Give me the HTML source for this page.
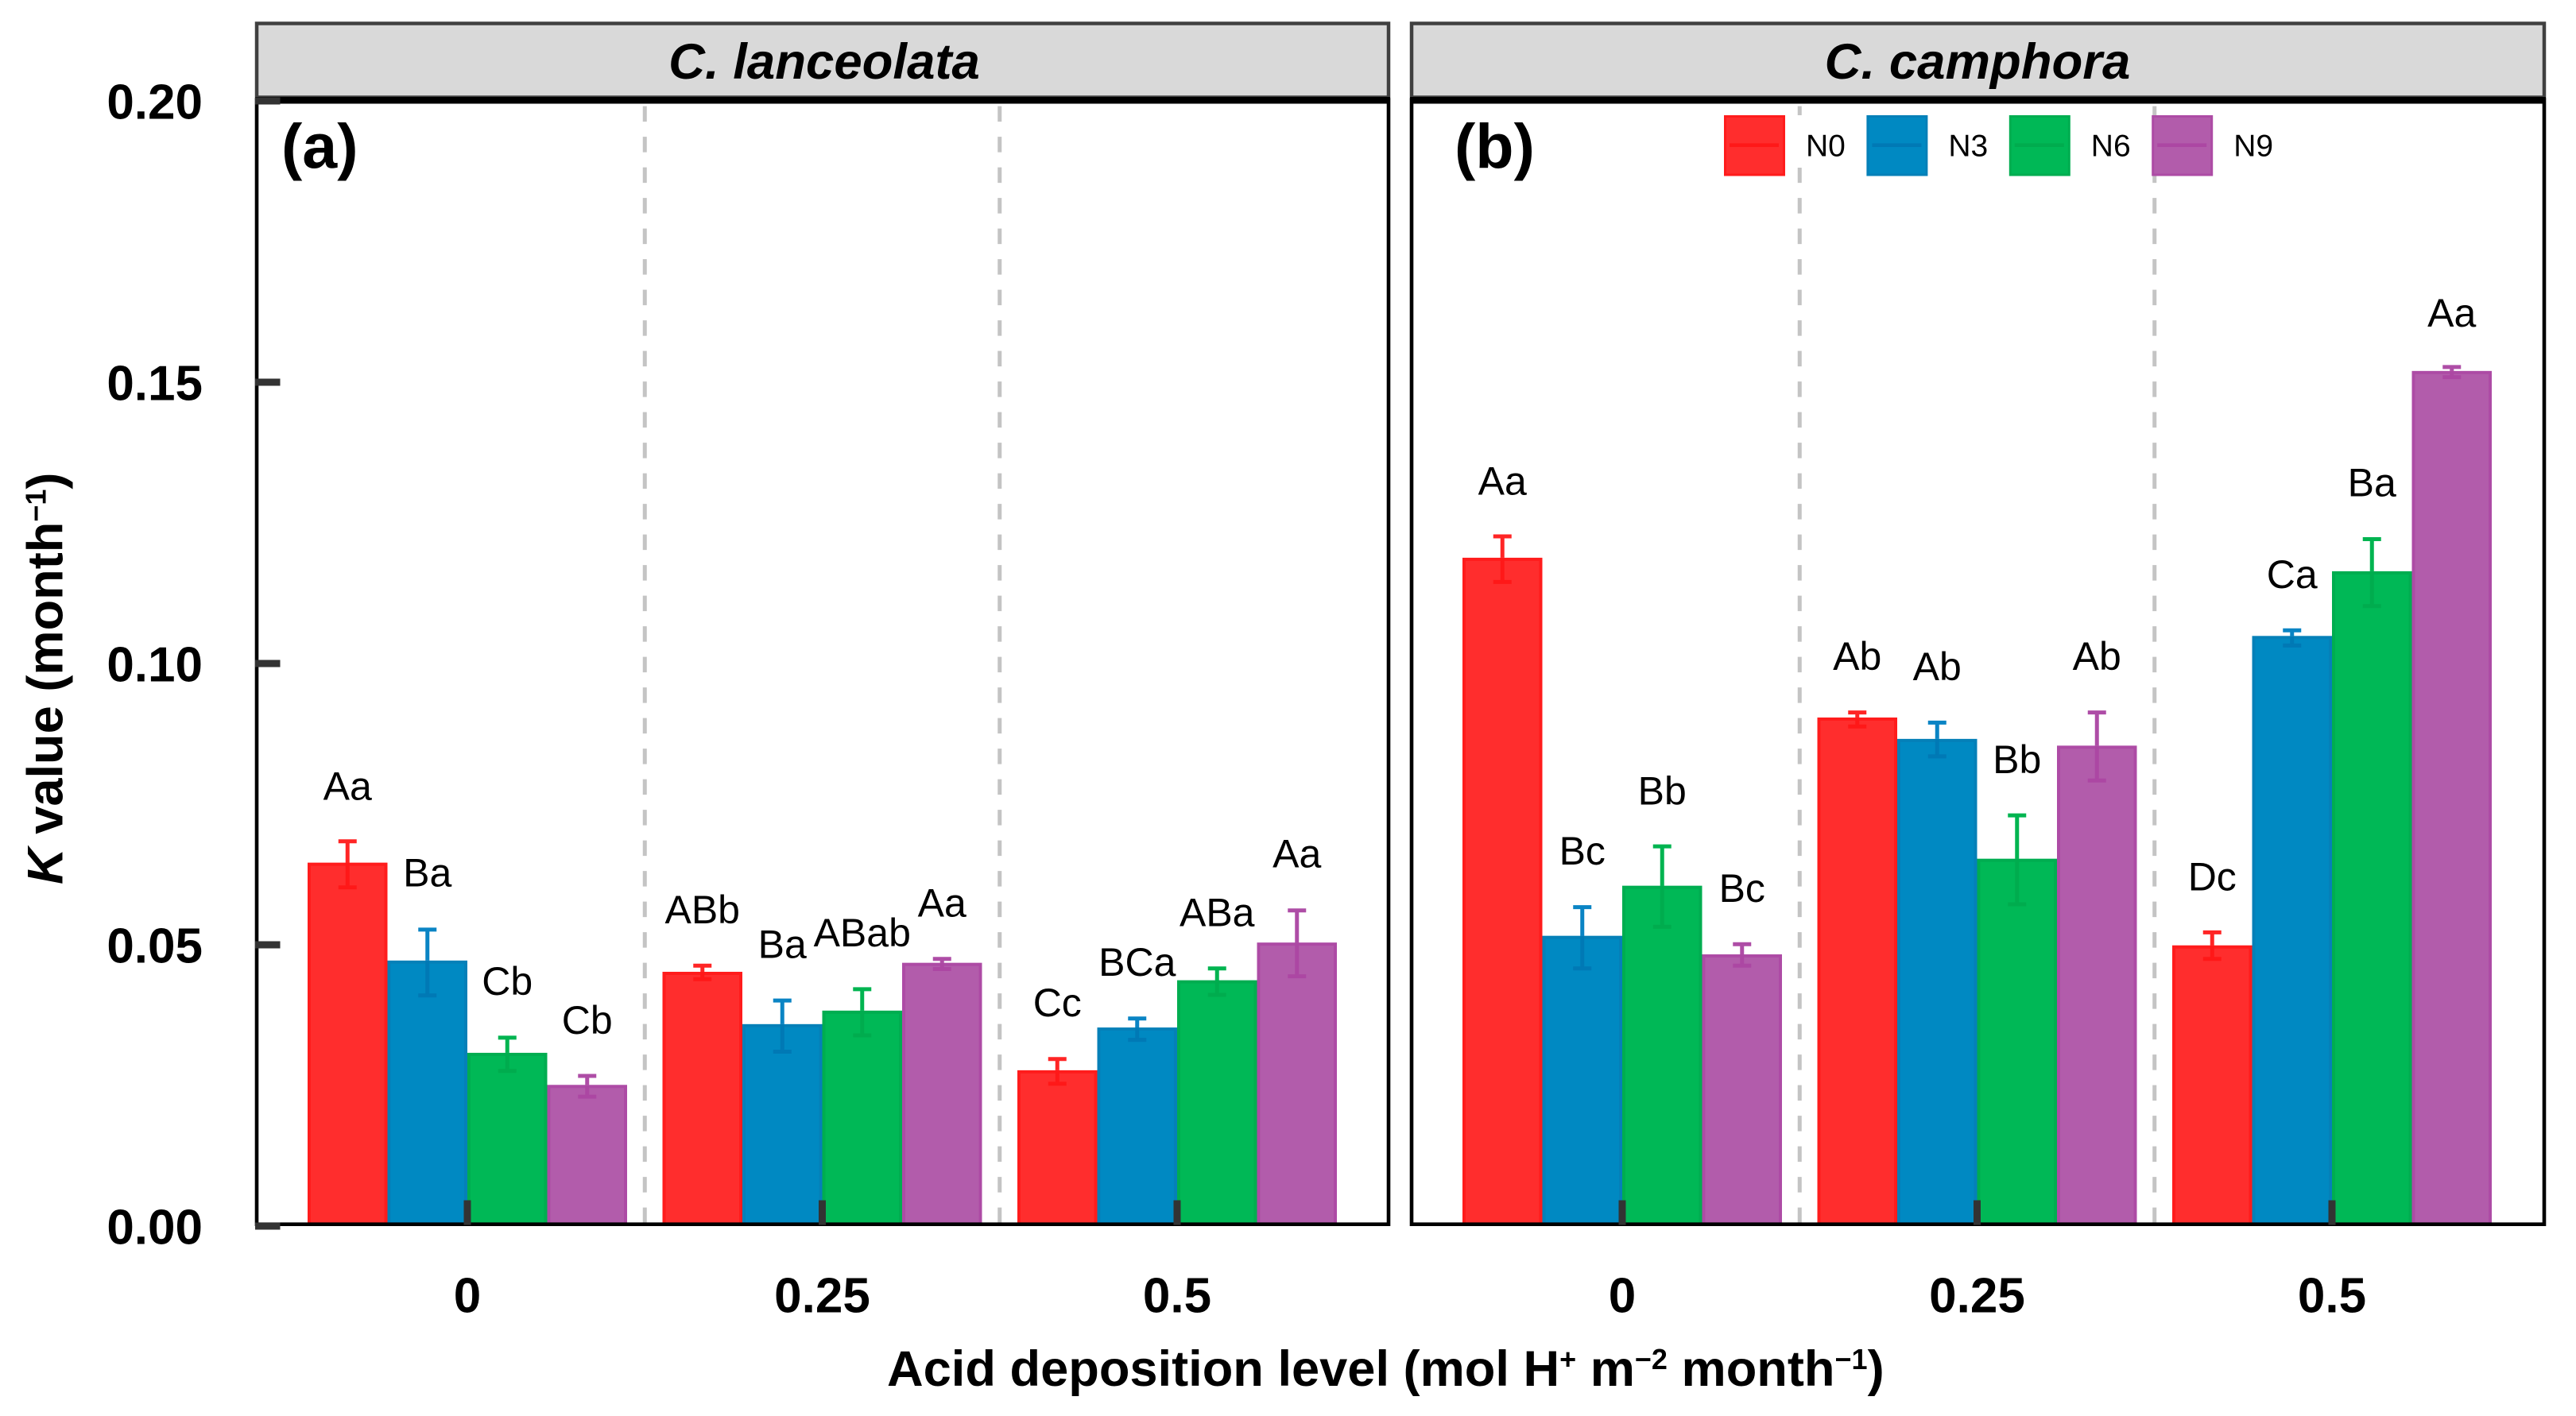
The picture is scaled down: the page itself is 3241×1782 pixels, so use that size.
<!DOCTYPE html>
<html lang="en">
<head>
<meta charset="utf-8">
<title>K value by acid deposition level</title>
<style>
html,body{margin:0;padding:0;background:#fff;}
svg{display:block;font-family:"Liberation Sans",Arial,sans-serif;}
.tick-label{font-size:62px;font-weight:700;fill:#000;}
.letter{font-size:50px;fill:#000;text-anchor:middle;}
.strip-text{font-size:63.5px;font-weight:700;font-style:italic;text-anchor:middle;fill:#000;}
.panel-tag{font-size:79px;font-weight:700;fill:#000;}
.legend-text{font-size:39px;fill:#000;}
.axis-title{font-size:63.2px;font-weight:700;fill:#000;}
.sup{font-size:36px;}
</style>
</head>
<body>
<svg id="chart" xmlns="http://www.w3.org/2000/svg" width="3241" height="1782" viewBox="0 0 3241 1782">
  <rect x="0" y="0" width="3241" height="1782" fill="#fff"/>
  <defs>
    <clipPath id="clip-a"><rect x="323" y="126" width="1424" height="1414"/></clipPath>
    <clipPath id="clip-b"><rect x="1776" y="126" width="1425" height="1414"/></clipPath>
  </defs>
  <g id="layer-panels"></g>
  <g id="layer-frames"></g>
  <g id="layer-legend"></g>
  <text class="strip-text" x="1037" y="99">C. lanceolata</text>
  <text class="strip-text" x="2488" y="99">C. camphora</text>
  <text class="panel-tag" x="354" y="211">(a)</text>
  <text class="panel-tag" x="1830" y="211">(b)</text>
  <text class="axis-title" transform="translate(78.5,1113) rotate(-90)"><tspan font-style="italic">K</tspan> value (month<tspan class="sup" dy="-21">−1</tspan><tspan dy="21">)</tspan></text>
  <text class="axis-title" x="1116" y="1744">Acid deposition level (mol H<tspan class="sup" dy="-21">+</tspan><tspan dy="21"> m</tspan><tspan class="sup" dy="-21">−2</tspan><tspan dy="21"> month</tspan><tspan class="sup" dy="-21">−1</tspan><tspan dy="21">)</tspan></text>
</svg>
<script>
const categories = ['0', '0.25', '0.5'];
const seriesNames = ['N0', 'N3', 'N6', 'N9'];
const yTickValues = [0, 0.05, 0.10, 0.15, 0.20];
const yTickLabels = ['0.00', '0.05', '0.10', '0.15', '0.20'];

const lanceolataN0 = [0.0646, 0.0452, 0.0277];
const lanceolataN3 = [0.0472, 0.0359, 0.0353];
const lanceolataN6 = [0.0308, 0.0383, 0.0437];
const lanceolataN9 = [0.0251, 0.0468, 0.0504];
const lanceolataHighN0 = [0.0684, 0.0463, 0.0297];
const lanceolataHighN3 = [0.0527, 0.0401, 0.0369];
const lanceolataHighN6 = [0.0335, 0.0421, 0.0458];
const lanceolataHighN9 = [0.0267, 0.0475, 0.0561];
const lanceolataLowN0 = [0.0602, 0.0439, 0.0253];
const lanceolataLowN3 = [0.0410, 0.0310, 0.0331];
const lanceolataLowN6 = [0.0276, 0.0339, 0.0411];
const lanceolataLowN9 = [0.0230, 0.0457, 0.0444];
const lanceolataLetters = [['Aa','ABb','Cc'],['Ba','Ba','BCa'],['Cb','ABab','ABa'],['Cb','Aa','Aa']];
const lanceolataLetterY = [[0.0758, 0.0538, 0.0373],[0.0604, 0.0477, 0.0445],[0.0411, 0.0497, 0.0533],[0.0342, 0.0550, 0.0638]];

const camphoraN0 = [0.1188, 0.0904, 0.0499];
const camphoraN3 = [0.0516, 0.0866, 0.1049];
const camphoraN6 = [0.0605, 0.0653, 0.1164];
const camphoraN9 = [0.0483, 0.0854, 0.1520];
const camphoraHighN0 = [0.1226, 0.0913, 0.0522];
const camphoraHighN3 = [0.0567, 0.0895, 0.1059];
const camphoraHighN6 = [0.0675, 0.0730, 0.1221];
const camphoraHighN9 = [0.0501, 0.0913, 0.1527];
const camphoraLowN0 = [0.1145, 0.0888, 0.0475];
const camphoraLowN3 = [0.0458, 0.0835, 0.1032];
const camphoraLowN6 = [0.0532, 0.0572, 0.1102];
const camphoraLowN9 = [0.0463, 0.0792, 0.1509];
const camphoraLetters = [['Aa','Ab','Dc'],['Bc','Ab','Ca'],['Bb','Bb','Ba'],['Bc','Ab','Aa']];
const camphoraLetterY = [[0.1300, 0.0989, 0.0597],[0.0643, 0.0970, 0.1134],[0.0749, 0.0805, 0.1297],[0.0576, 0.0989, 0.1599]];

const NS = 'http://www.w3.org/2000/svg';
const fills = ['#FF2D2D', '#0089C2', '#00B856', '#B25CAB'];
const strokes = ['#FF1C1C', '#0580B8', '#00AD50', '#AD4BA5'];
const errOuter = ['#FF2525', '#0A84C4', '#00B450', '#AE4DA6'];
const errInner = ['#FF1818', '#0079B5', '#00AC4E', '#AC47A3'];

function yScale(v) { return 1543 - v * 7080; }
function xScaleA(i) { return 588 + i * 446.5; }
function xScaleB(i) { return 2041 + i * 446.5; }
function barOffset(j) { return (j - 1.5) * 100.5; }

function make(tag, parent, attrs, text) {
  const el = document.createElementNS(NS, tag);
  for (const k in attrs) el.setAttribute(k, attrs[k]);
  if (text !== undefined) el.textContent = text;
  parent.appendChild(el);
  return el;
}

const layerPanels = document.getElementById('layer-panels');
const layerFrames = document.getElementById('layer-frames');
const layerLegend = document.getElementById('layer-legend');

function drawPanel(panelKey, xScale, left, right, clipId, means, highs, lows, letters, letterY) {
  const g = make('g', layerPanels, { 'clip-path': 'url(#' + clipId + ')' });
  
  

  for (let i = 0; i < categories.length - 1; i++) {
    const sx = (xScale(i) + xScale(i + 1)) / 2;
    const sep = make('line', g, { x1: sx, x2: sx, y1: 133.6, y2: 1540, stroke: '#C4C4C4', 'stroke-width': 5, 'stroke-dasharray': '19.5 19' });
    
    
  }

  for (let j = 0; j < seriesNames.length; j++) {
    for (let i = 0; i < categories.length; i++) {
      const cx = xScale(i) + barOffset(j);
      const top = yScale(means[j][i]);
      const bar = make('rect', g, { x: cx - 48.25, y: top + 2, width: 96.5, height: yScale(0) - top, fill: fills[j], stroke: strokes[j], 'stroke-width': 4 });
      
      
    }
  }

  for (let j = 0; j < seriesNames.length; j++) {
    for (let i = 0; i < categories.length; i++) {
      const cx = xScale(i) + barOffset(j);
      const top = yScale(means[j][i]);
      const hi = yScale(highs[j][i]);
      const lo = yScale(lows[j][i]);
      const eg = make('g', g, { 'stroke-width': 5, fill: 'none' });
      
      
      make('line', eg, { x1: cx, x2: cx, y1: hi, y2: top, stroke: errOuter[j] });
      make('line', eg, { x1: cx - 11.5, x2: cx + 11.5, y1: hi, y2: hi, stroke: errOuter[j] });
      make('line', eg, { x1: cx, x2: cx, y1: top, y2: lo, stroke: errInner[j] });
      make('line', eg, { x1: cx - 11.5, x2: cx + 11.5, y1: lo, y2: lo, stroke: errInner[j] });
    }
  }

  for (let j = 0; j < seriesNames.length; j++) {
    for (let i = 0; i < categories.length; i++) {
      const cx = xScale(i) + barOffset(j);
      const lab = make('text', g, { x: cx, y: yScale(letterY[j][i]), class: 'letter' }, letters[j][i]);
      
      
    }
  }

  const strip = make('rect', layerFrames, { x: left, y: 29.5, width: right - left, height: 93, fill: '#D9D9D9', stroke: '#404040', 'stroke-width': 4.5 });
  
  

  const frame = make('rect', layerFrames, { x: left, y: 126, width: right - left, height: 1414.7, fill: 'none', stroke: '#000', 'stroke-width': 4.6 });
  
  

  const topRule = make('rect', layerFrames, { x: left - 2, y: 122, width: right - left + 4, height: 8.5, fill: '#000' });
  
  

  for (let i = 0; i < categories.length; i++) {
    const tx = xScale(i);
    const tick = make('rect', layerFrames, { x: tx - 4.5, y: 1510.5, width: 9, height: 31, fill: '#333' });
    
    
    const tl = make('text', layerFrames, { x: tx, y: 1651.5, class: 'tick-label', 'text-anchor': 'middle' }, categories[i]);
    
    
  }
}

drawPanel('panel-a', xScaleA, 323, 1747, 'clip-a',
  [lanceolataN0, lanceolataN3, lanceolataN6, lanceolataN9],
  [lanceolataHighN0, lanceolataHighN3, lanceolataHighN6, lanceolataHighN9],
  [lanceolataLowN0, lanceolataLowN3, lanceolataLowN6, lanceolataLowN9],
  lanceolataLetters, lanceolataLetterY);

drawPanel('panel-b', xScaleB, 1776, 3201, 'clip-b',
  [camphoraN0, camphoraN3, camphoraN6, camphoraN9],
  [camphoraHighN0, camphoraHighN3, camphoraHighN6, camphoraHighN9],
  [camphoraLowN0, camphoraLowN3, camphoraLowN6, camphoraLowN9],
  camphoraLetters, camphoraLetterY);

for (let i = 0; i < yTickValues.length; i++) {
  const ty = yScale(yTickValues[i]);
  const tick = make('rect', layerFrames, { x: 321, y: ty - 4.5, width: 31.5, height: 9, fill: '#333' });
  
  
  const tl = make('text', layerFrames, { x: 255, y: ty + 22.5, class: 'tick-label', 'text-anchor': 'end' }, yTickLabels[i]);
  
  
}

const legendBack = make('rect', layerLegend, { x: 2168, y: 145, width: 712, height: 66, fill: '#fff' });



for (let j = 0; j < seriesNames.length; j++) {
  const kx = 2169 + j * 179.4;
  const entry = make('g', layerLegend, {});
  
  
  make('rect', entry, { x: kx + 1.5, y: 146.5, width: 74, height: 73.5, fill: fills[j], stroke: strokes[j], 'stroke-width': 3 });
  make('line', entry, { x1: kx + 7, x2: kx + 69, y1: 182.7, y2: 182.7, stroke: errInner[j], 'stroke-width': 4.6 });
  make('text', entry, { x: kx + 103, y: 196.5, class: 'legend-text' }, seriesNames[j]);
}
</script>
</body>
</html>
